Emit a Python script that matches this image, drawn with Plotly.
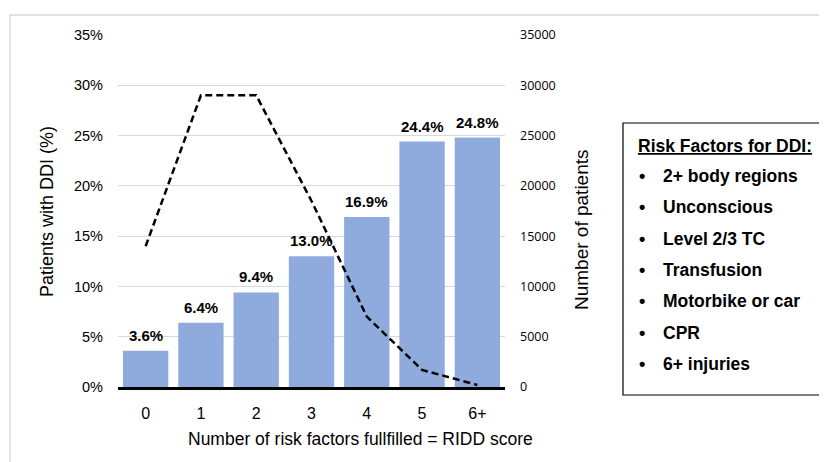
import plotly.graph_objects as go

categories = ["0", "1", "2", "3", "4", "5", "6+"]
pct_ddi = [3.6, 6.4, 9.4, 13.0, 16.9, 24.4, 24.8]
n_patients = [14000, 29000, 29000, 18500, 7000, 1700, 200]
pct_ticks = [0, 5, 10, 15, 20, 25, 30, 35]
n_ticks = [0, 5000, 10000, 15000, 20000, 25000, 30000, 35000]
risk_factors = ["2+ body regions", "Unconscious", "Level 2/3 TC", "Transfusion",
                "Motorbike or car", "CPR", "6+ injuries"]

W, H = 827, 462
OFF = 8  # page body margin
L, R, T, B = 118, 505, 35, 387  # target screen pixels of plot area

def px(x):
    return (x - L) / (R - L)

def py(y):
    return (B - y) / (B - T)

FONT = "Liberation Sans, Arial"

fig = go.Figure()
fig.add_trace(go.Bar(
    x=categories, y=pct_ddi, marker_color="#8FAADC",
    marker_line_width=0,
))
fig.add_trace(go.Scatter(
    x=categories, y=n_patients, yaxis="y2", mode="lines",
    line=dict(color="#000000", width=2.5, dash="7px,4px"),
))

ann = []
for c, v in zip(categories, pct_ddi):
    ann.append(dict(text=f"<b>{v:.1f}%</b>", x=c, y=v, xref="x", yref="y",
                    showarrow=False, yanchor="bottom", xanchor="center", yshift=5,
                    font=dict(family=FONT, size=15, color="#000")))
ann.append(dict(text="Number of risk factors fullfilled = RIDD score",
                x=px(360), y=py(439), xref="paper", yref="paper", showarrow=False,
                font=dict(family=FONT, size=17.5, color="#000"),
                xanchor="center", yanchor="middle"))
ann.append(dict(text="Patients with DDI (%)", x=px(47), y=py(212), xref="paper", yref="paper",
                showarrow=False, textangle=-90,
                font=dict(family=FONT, size=18, color="#000"),
                xanchor="center", yanchor="middle"))
ann.append(dict(text="Number of patients", x=px(581), y=py(230), xref="paper", yref="paper",
                showarrow=False, textangle=-90,
                font=dict(family=FONT, size=19, color="#000"),
                xanchor="center", yanchor="middle"))
ann.append(dict(text="<b><u>Risk Factors for DDI:</u></b>", x=px(636), y=py(146),
                xref="paper", yref="paper", showarrow=False,
                font=dict(family=FONT, size=17.5, color="#000"),
                xanchor="left", yanchor="middle"))
for i, rf in enumerate(risk_factors):
    yy = 176 + i * 31.3
    ann.append(dict(text="<b>•</b>", x=px(642), y=py(yy), xref="paper", yref="paper",
                    showarrow=False, font=dict(family=FONT, size=18, color="#000"),
                    xanchor="center", yanchor="middle"))
    ann.append(dict(text=f"<b>{rf}</b>", x=px(661), y=py(yy), xref="paper", yref="paper",
                    showarrow=False, font=dict(family=FONT, size=17.5, color="#000"),
                    xanchor="left", yanchor="middle"))

shapes = [
    dict(type="rect", xref="paper", yref="paper", x0=px(10), x1=px(845), y0=py(480), y1=py(15),
         line=dict(color="#D9D9D9", width=1.5), fillcolor="rgba(0,0,0,0)", layer="below"),
    dict(type="rect", xref="paper", yref="paper", x0=px(623), x1=px(824), y0=py(395), y1=py(123),
         line=dict(color="#000000", width=1.2), fillcolor="rgba(0,0,0,0)"),
]

ml, mt = L - OFF, T - OFF
pw, ph = R - L, B - T
fig.update_layout(
    width=W, height=H, autosize=False,
    margin=dict(l=ml, r=W - ml - pw, t=mt, b=H - mt - ph),
    paper_bgcolor="white", plot_bgcolor="white",
    showlegend=False, bargap=0.18,
    xaxis=dict(type="category", categoryorder="array", categoryarray=categories,
               showline=True, linecolor="#000000", linewidth=3,
               tickfont=dict(family=FONT, size=16, color="#000"),
               ticks="", ticklabelstandoff=10, showgrid=False),
    yaxis=dict(range=[0, 35], tickvals=pct_ticks, ticktext=[f"{v}%" for v in pct_ticks],
               showgrid=True, gridcolor="#D9D9D9", gridwidth=1, zeroline=False,
               showline=False, ticks="", ticklabelstandoff=14,
               tickfont=dict(family=FONT, size=14.5, color="#000")),
    yaxis2=dict(range=[0, 35000], tickvals=n_ticks, ticktext=[str(v) for v in n_ticks],
                overlaying="y", side="right", showgrid=False, zeroline=False,
                showline=False, ticks="", ticklabelstandoff=14,
                tickfont=dict(family="Open Sans, Noto Sans", size=12.5, color="#000")),
    annotations=ann, shapes=shapes,
)

fig.write_html("out.html")
